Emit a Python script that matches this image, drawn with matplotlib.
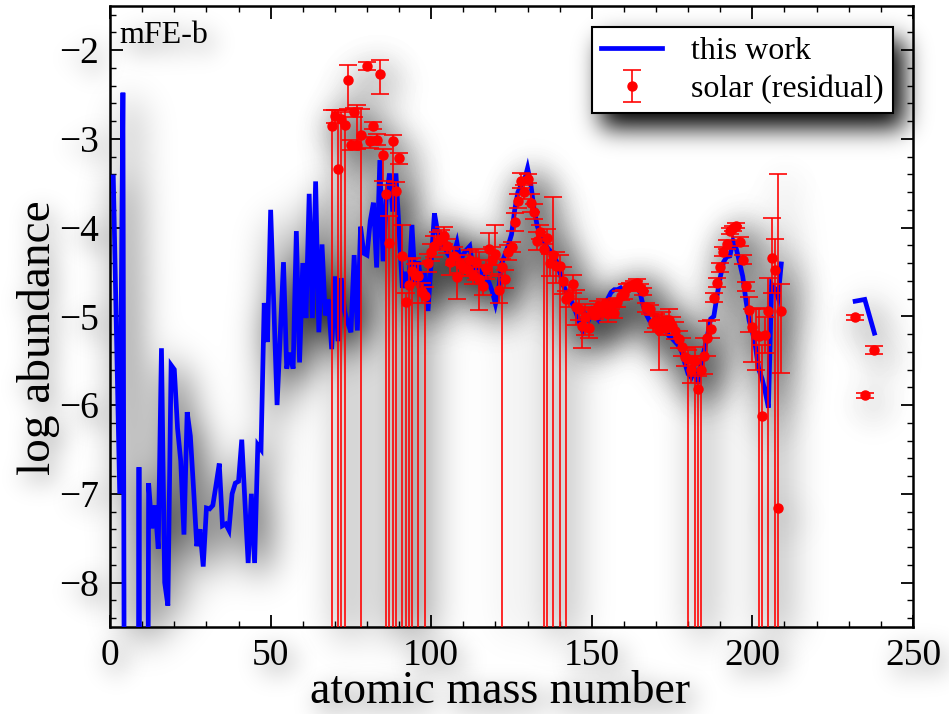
import numpy as np
import matplotlib
matplotlib.use("Agg")
import matplotlib.pyplot as plt
from matplotlib.ticker import MultipleLocator

plt.rcParams['font.family'] = ['Liberation Serif', 'DejaVu Serif']
plt.rcParams['axes.unicode_minus'] = True

# ---------------- data ----------------
model_mass = list(range(1, 210))
model_logab = [
    -3.43, -5.2, -7.0, -2.48, -20, -20, -20, -20, -6.7, -20,
    -20, -6.88, -7.39, -7.13, -7.62, -5.36, -8.0, -8.26, -5.55, -5.6,
    -6.26, -6.63, -7.46, -6.08, -6.35, -6.95, -7.59, -7.4, -7.82, -7.16,
    -7.17, -7.13, -6.9, -6.66, -7.36, -7.34, -7.41, -7.0, -6.88, -6.86,
    -6.39, -7.1, -7.78, -7.0, -7.78, -6.45, -6.5, -4.85, -5.29, -3.8,
    -4.9, -6.0, -5.2, -4.39, -5.59, -5.41, -5.59, -4.04, -5.52, -4.40,
    -5.02, -3.62, -5.02, -3.48, -5.18, -4.19, -4.99, -4.81, -5.37, -4.55,
    -5.28, -4.57, -4.94, -5.07, -5.18, -4.31, -5.16, -3.99, -4.29, -4.31,
    -3.93, -3.72, -4.45, -3.24, -4.38, -3.69, -3.39, -3.82, -3.39, -4.03,
    -4.68, -4.50, -4.68, -3.97, -4.64, -4.38, -4.68, -4.50, -4.94, -4.38,
    -3.84, -4.05, -4.21, -4.17, -4.29, -4.34, -4.30, -4.17, -4.38, -4.30,
    -4.25, -4.21, -4.47, -4.45, -4.49, -4.54, -4.56, -4.62, -4.72, -4.86,
    -4.69, -4.40, -4.30, -4.20, -4.08, -3.80, -3.60, -3.52, -3.47, -3.33,
    -3.51, -3.79, -3.98, -4.08, -4.15, -4.22, -4.26, -4.30, -4.38, -4.50,
    -4.64, -4.72, -4.78, -4.86, -4.95, -5.05, -5.15, -4.98, -5.04, -4.94,
    -5.00, -5.04, -4.95, -4.88, -4.80, -4.73, -4.70, -4.70, -4.68, -4.72,
    -4.68, -4.66, -4.64, -4.62, -4.73, -4.88, -4.98, -5.05, -5.09, -5.01,
    -5.06, -5.11, -5.16, -5.22, -5.25, -5.29, -5.33, -5.40, -5.53, -5.65,
    -5.69, -5.61, -5.76, -5.53, -5.38, -5.22, -5.03, -5.00, -4.77, -4.56,
    -4.39, -4.33, -4.32, -4.15, -4.24, -4.39, -4.55, -4.82, -5.05, -5.17,
    -5.35, -5.60, -5.70, -5.85, -6.03, -4.64, -4.69, -4.79, -4.41,
]
actinide_mass = [232, 235, 238]
actinide_logab = [-4.83, -4.81, -5.19]

solar_mass = [
    69, 70, 71, 72, 73, 74, 75, 76, 77, 78, 80, 81, 82, 83, 84, 85, 86, 87, 88, 89,
    90, 91, 92, 93, 94, 95, 96, 97, 98, 99, 100, 101, 102, 103, 104, 105, 106, 107, 108, 109,
    110, 111, 112, 113, 114, 115, 116, 117, 118, 119, 120, 121, 122, 123, 124, 125, 126, 127, 128, 129,
    130, 131, 132, 133, 134, 135, 136, 137, 138, 139, 140, 141, 142, 143, 144, 145, 146, 147, 148, 149,
    150, 151, 152, 153, 154, 155, 156, 157, 158, 159, 160, 161, 162, 163, 164, 165, 166, 167, 168, 169,
    170, 171, 172, 173, 174, 175, 176, 177, 178, 179, 180, 181, 182, 183, 184, 185, 186, 187, 188, 189,
    190, 191, 192, 193, 194, 195, 196, 197, 198, 199, 200, 201, 202, 203, 204, 205, 206, 207, 208, 209,
    232, 235, 238,
]
solar_logab = [
    -2.85, -2.74, -3.34, -2.78, -2.84, -2.34, -3.07, -2.70, -3.07, -2.96, -2.18, -3.02, -2.85, -3.01, -2.27, -3.18, -3.62, -4.17, -3.02, -3.59,
    -3.22, -4.32, -4.84, -4.65, -4.49, -4.53, -4.55, -4.73, -4.77, -4.40, -4.28, -4.21, -4.15, -4.13, -4.09, -4.21, -4.39, -4.32, -4.56, -4.41,
    -4.45, -4.47, -4.37, -4.54, -4.39, -4.58, -4.66, -4.46, -4.24, -4.37, -4.30, -4.70, -4.45, -4.58, -4.28, -4.22, -3.94, -3.70, -3.47, -3.60,
    -3.45, -3.72, -3.82, -4.15, -4.05, -4.24, -4.12, -4.40, -4.31, -4.43, -4.43, -4.60, -4.81, -4.77, -4.64, -4.90, -4.92, -5.11, -5.01, -5.13,
    -4.94, -4.98, -4.88, -4.95, -4.86, -4.96, -4.87, -4.96, -4.84, -4.77, -4.75, -4.68, -4.66, -4.64, -4.62, -4.68, -4.72, -4.90, -4.92, -5.08,
    -5.05, -5.15, -5.05, -5.13, -5.04, -5.11, -5.16, -5.26, -5.35, -5.46, -5.48, -5.60, -5.50, -5.82, -5.60, -5.45, -5.25, -5.14, -4.79, -4.62,
    -4.45, -4.27, -4.19, -4.04, -4.01, -3.98, -4.16, -4.36, -4.66, -4.93, -5.12, -5.21, -5.22, -6.12, -5.21, -4.94, -4.34, -4.48, -7.16, -4.94,
    -5.01, -5.89, -5.38,
]
# lower / upper error in dex (9 = error reaches below the plotted range)
solar_err_lo = [
    9, 0.08, 9, 9, 9, 0.32, 0.06, 0.05, 0.05, 9, 0.05, 0.08, 0.04, 0.06, 0.22, 0.30, 9, 9, 9, 9,
    0.06, 9, 9, 9, 9, 0.12, 9, 0.12, 9, 0.10, 0.10, 0.12, 0.10, 0.10, 0.10, 0.08, 0.15, 0.10, 0.25, 0.10,
    0.10, 0.08, 0.12, 0.10, 0.20, 0.35, 0.10, 0.12, 0.18, 0.15, 0.12, 0.15, 9, 0.10, 0.08, 0.06, 0.10, 0.08, 0.08, 0.08,
    0.05, 0.10, 0.08, 0.10, 0.08, 9, 9, 0.15, 9, 0.20, 9, 0.15, 9, 0.12, 0.10, 0.20, 0.12, 0.25, 0.20, 0.12,
    0.05, 0.05, 0.05, 0.06, 0.05, 0.10, 0.05, 0.06, 0.05, 0.05, 0.05, 0.04, 0.04, 0.04, 0.04, 0.04, 0.04, 0.05, 0.05, 0.10,
    0.08, 0.45, 0.10, 0.08, 0.12, 0.10, 0.10, 0.10, 0.10, 0.10, 9, 0.15, 9, 9, 9, 0.20, 0.20, 0.10, 0.05, 0.05,
    0.05, 0.05, 0.05, 0.03, 0.03, 0.03, 0.05, 0.05, 0.05, 0.25, 0.40, 0.40, 9, 9, 0.20, 9, 0.40, 9, 9, 0.70,
    0.03, 0.03, 0.04,
]
solar_err_hi = [
    0.18, 0.06, 0.66, 0.08, 0.17, 0.17, 0.06, 0.05, 0.45, 0.30, 0.05, 0.04, 0.04, 0.06, 0.16, 0.06, 0.10, 0.30, 0.06, 0.10,
    0.06, 0.35, 0.10, 0.30, 0.15, 0.12, 0.15, 0.10, 0.10, 0.10, 0.10, 0.12, 0.10, 0.10, 0.10, 0.08, 0.15, 0.10, 0.20, 0.10,
    0.10, 0.08, 0.12, 0.10, 0.15, 0.30, 0.10, 0.10, 0.18, 0.15, 0.33, 0.15, 0.10, 0.10, 0.08, 0.06, 0.10, 0.08, 0.08, 0.08,
    0.05, 0.10, 0.08, 0.10, 0.08, 0.05, 0.10, 0.10, 0.66, 0.15, 0.12, 0.15, 0.10, 0.12, 0.10, 0.20, 0.12, 0.20, 0.15, 0.12,
    0.05, 0.05, 0.05, 0.06, 0.05, 0.10, 0.05, 0.06, 0.05, 0.05, 0.05, 0.04, 0.04, 0.04, 0.04, 0.04, 0.04, 0.05, 0.05, 0.10,
    0.08, 0.15, 0.10, 0.08, 0.12, 0.10, 0.10, 0.10, 0.10, 0.10, 0.10, 0.15, 0.15, 0.15, 0.15, 0.20, 0.20, 0.10, 0.05, 0.05,
    0.05, 0.05, 0.05, 0.03, 0.03, 0.03, 0.05, 0.05, 0.05, 0.15, 0.20, 0.30, 0.30, 0.80, 0.20, 0.37, 0.45, 0.35, 3.76, 0.30,
    0.03, 0.03, 0.04,
]

x_ticks = [0, 50, 100, 150, 200, 250]
y_ticks = [-8, -7, -6, -5, -4, -3, -2]


# ---------------- blurred drop shadow filter ----------------
def blur2d(a, sigma):
    h, w = a.shape
    F = np.fft.rfft2(a)
    fy = np.fft.fftfreq(h)[:, None]
    fx = np.fft.rfftfreq(w)[None, :]
    F *= np.exp(-2.0 * np.pi ** 2 * sigma ** 2 * (fx ** 2 + fy ** 2))
    return np.fft.irfft2(F, s=a.shape)


class Shadow:
    def __init__(self, sigma=10, alpha=0.6, offset=(7, 9), keep=False):
        self.sigma = sigma
        self.alpha = alpha
        self.offset = offset
        self.keep = keep

    def __call__(self, im, dpi):
        ox, oy = self.offset
        pad = int(3 * self.sigma) + max(abs(ox), abs(oy)) + 2
        src = np.pad(im, [(pad, pad), (pad, pad), (0, 0)])
        a = blur2d(src[..., 3], self.sigma) * self.alpha
        a = np.roll(np.roll(a, ox, axis=1), oy, axis=0)
        a = np.clip(a, 0, 1)
        out = np.zeros_like(src)
        out[..., 3] = a
        if self.keep:
            sa = src[..., 3]
            oa = sa + a * (1 - sa)
            rgb = src[..., :3] * sa[..., None] / np.maximum(oa, 1e-6)[..., None]
            out[..., :3] = rgb
            out[..., 3] = oa
        return out, -pad, -pad


# ---------------- figure ----------------
fig = plt.figure(figsize=(9.49, 7.14), dpi=100)
ax = fig.add_axes([0.116, 0.122, 0.846, 0.870])


def draw_data(shadow):
    z = 1 if shadow else 3
    l1, = ax.plot(model_mass, model_logab, color='blue', lw=3.4, zorder=z,
                  solid_joinstyle='miter', label=None if shadow else 'this work')
    l2, = ax.plot(actinide_mass, actinide_logab, color='blue', lw=3.4, zorder=z,
                  solid_joinstyle='miter')
    eb = ax.errorbar(solar_mass, solar_logab, yerr=[solar_err_lo, solar_err_hi],
                     fmt='o', color='red', ms=6.5, ecolor=(1, 0, 0, 0.9),
                     elinewidth=1.3, capsize=6.5, capthick=1.3, zorder=z + 1,
                     label=None if shadow else 'solar (residual)')
    arts = [l1, l2, eb[0]] + list(eb[1]) + list(eb[2])
    if shadow:
        for a in arts:
            a.set_agg_filter(Shadow(sigma=18, alpha=1.0, offset=(8, 10)))
    return l1, eb


draw_data(True)
draw_data(False)

ax.set_xlim(0, 250)
ax.set_ylim(-8.5, -1.5)
ax.set_xticks(x_ticks)
ax.set_yticks(y_ticks)
ax.xaxis.set_minor_locator(MultipleLocator(10))
ax.yaxis.set_minor_locator(MultipleLocator(0.2))
ax.tick_params(which='both', direction='in', top=True, right=True)
ax.tick_params(which='major', length=9, width=1.3, labelsize=27, pad=8)
ax.tick_params(which='minor', length=4.5, width=1.0)
for s in ax.spines.values():
    s.set_linewidth(1.8)

xl = ax.set_xlabel('atomic mass number', fontsize=33)
yl = ax.set_ylabel('log abundance', fontsize=34)
ax.xaxis.set_label_coords(0.486, -0.071)
ax.yaxis.set_label_coords(-0.063, 0.465)
tag = ax.text(0.012, 0.976, 'mFE-b', transform=ax.transAxes, ha='left', va='top',
              fontsize=23)

leg = ax.legend(loc='upper right', bbox_to_anchor=(0.975, 0.965), borderaxespad=0,
                fontsize=23, frameon=True, fancybox=False, framealpha=1,
                edgecolor='black', handlelength=1.9, handletextpad=0.9,
                borderpad=0.3, labelspacing=0.25)
leg.get_frame().set_linewidth(1.5)
leg.set_zorder(10)
leg.set_agg_filter(Shadow(sigma=12, alpha=1.0, offset=(10, 14), keep=True))

fig.canvas.draw()
for t in ax.get_xticklabels() + ax.get_yticklabels() + [xl, yl, tag]:
    t.set_agg_filter(Shadow(sigma=12, alpha=0.6, offset=(6, 8), keep=True))

fig.savefig('out.png', dpi=100)
